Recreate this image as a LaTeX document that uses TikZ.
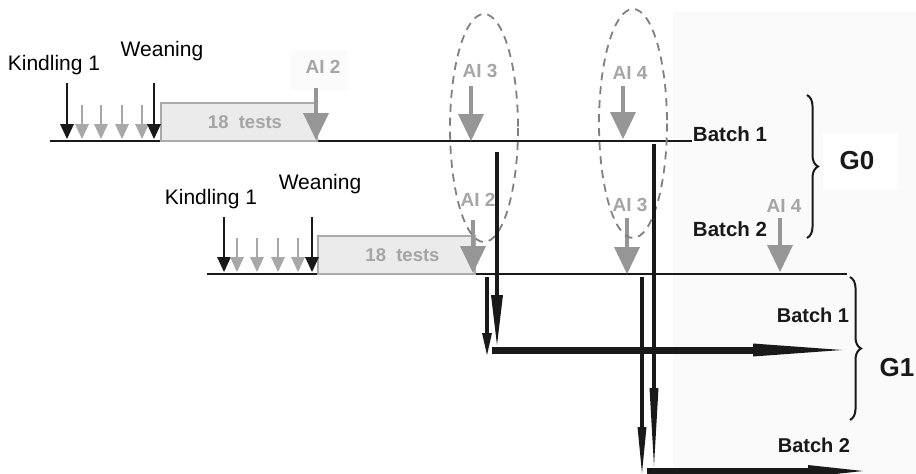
\documentclass[tikz,border=0pt]{standalone}
\usepackage{fontspec}
\setmainfont{Liberation Sans}
\usetikzlibrary{arrows.meta,decorations.pathreplacing}
\definecolor{agray}{RGB}{150,150,150}
\definecolor{sgray}{RGB}{168,168,168}
\definecolor{tgray}{RGB}{165,165,165}
\definecolor{boxfill}{RGB}{235,235,235}
\definecolor{boxdraw}{RGB}{170,170,170}
\definecolor{ellgray}{RGB}{128,128,128}
\definecolor{bggray}{RGB}{250,250,250}
\definecolor{lblbg}{RGB}{251,251,251}
\begin{document}
\begin{tikzpicture}[x=1pt,y=-1pt,
  lbl/.style={font=\fontsize{21}{24}\selectfont, inner sep=0pt},
  batchlbl/.style={font=\fontsize{20.5}{24}\selectfont\bfseries, text=black!90, inner sep=0pt},
  ailbl/.style={font=\fontsize{19}{22}\selectfont\bfseries, text=tgray, inner sep=0pt},
  glbl/.style={font=\fontsize{26}{30}\selectfont\bfseries, text=black!90, inner sep=0pt},
  timeline/.style={line width=2pt, black!90},
  kindarrow/.style={line width=2.5pt, black!90, -{Triangle[length=15pt,width=14pt,line width=0pt]}},
  smallarrow/.style={color=sgray, line width=2pt, -{Triangle[length=15pt,width=14pt,line width=0pt]}},
  aiarrow/.style={color=agray, line width=4.5pt, -{Triangle[length=27pt,width=26pt,line width=0pt]}},
  bigarrow/.style={black!90, line width=#1},
  testbox/.style={draw=boxdraw, fill=boxfill, line width=2pt, inner sep=0pt,
    font=\fontsize{18.5}{22}\selectfont\bfseries, text=tgray},
  ell/.style={draw=ellgray, dash pattern=on 8pt off 6pt, line width=1.8pt},
  gbrace/.style={decorate, decoration={brace, amplitude=11pt}, line width=2pt, black!90},
]
\useasboundingbox (0,0) rectangle (916,474);
% background tint
\fill[bggray] (673,12) rectangle (916,474);
\fill[white] (823,133) rectangle (898,190);
\fill[lblbg] (291,50) rectangle (348,90);

% ---------- G0 batch 1 ----------
\coordinate (t1a) at (50,141);
\coordinate (t1b) at (692,141);
\draw[timeline] (t1a) -- (t1b);
\node[lbl] (k1) at (54,65) {Kindling 1};
\node[lbl] (w1) at (162,51) {Weaning};
\node[testbox, minimum width=156pt, minimum height=38pt] (box1) at (239,122) {\hspace*{12pt}18\ \ tests};
\coordinate (ka1) at (67,83);  \coordinate (kb1) at (67,139);
\draw[kindarrow] (ka1) -- (kb1);
\foreach \x [count=\i] in {82,101,122,142}{
  \coordinate (sa1\i) at (\x,105); \coordinate (sb1\i) at (\x,139);
  \draw[smallarrow] (sa1\i) -- (sb1\i);
}
\coordinate (wa1) at (154,83); \coordinate (wb1) at (154,139);
\draw[kindarrow] (wa1) -- (wb1);
\node[ailbl] (ai2a) at (323,67) {AI 2};
\coordinate (ai2aS) at (316,88); \coordinate (ai2aE) at (316,140);
\draw[aiarrow] (ai2aS) -- (ai2aE);
\node[ailbl] (ai3a) at (480,71) {AI 3};
\coordinate (ai3aS) at (471,86); \coordinate (ai3aE) at (471,141);
\draw[aiarrow] (ai3aS) -- (ai3aE);
\node[ailbl] (ai4a) at (630,73) {AI 4};
\coordinate (ai4aS) at (623,86); \coordinate (ai4aE) at (623,139);
\draw[aiarrow] (ai4aS) -- (ai4aE);
\node[batchlbl] (b1g0) at (730,134) {Batch 1};

% ---------- G0 batch 2 ----------
\coordinate (t2a) at (207,274);
\coordinate (t2b) at (847,274);
\draw[timeline] (t2a) -- (t2b);
\node[lbl] (k2) at (211,199) {Kindling 1};
\node[lbl] (w2) at (320,184) {Weaning};
\node[testbox, minimum width=157pt, minimum height=38pt] (box2) at (396.5,255) {\hspace*{12pt}18\ \ tests};
\coordinate (ka2) at (224,217);  \coordinate (kb2) at (224,272);
\draw[kindarrow] (ka2) -- (kb2);
\foreach \x [count=\i] in {237,257,278,298}{
  \coordinate (sa2\i) at (\x,238); \coordinate (sb2\i) at (\x,272);
  \draw[smallarrow] (sa2\i) -- (sb2\i);
}
\coordinate (wa2) at (312,217); \coordinate (wb2) at (312,272);
\draw[kindarrow] (wa2) -- (wb2);
\node[ailbl] (ai2b) at (478,200) {AI 2};
\coordinate (ai2bS) at (473,220); \coordinate (ai2bE) at (473,273);
\draw[aiarrow] (ai2bS) -- (ai2bE);
\node[ailbl] (ai3b) at (630,205) {AI 3};
\coordinate (ai3bS) at (627,218); \coordinate (ai3bE) at (627,274);
\draw[aiarrow] (ai3bS) -- (ai3bE);
\node[ailbl] (ai4b) at (784,206) {AI 4};
\coordinate (ai4bS) at (780,218); \coordinate (ai4bE) at (780,272);
\draw[aiarrow] (ai4bS) -- (ai4bE);
\node[batchlbl] (b2g0) at (730,229) {Batch 2};

% dashed ellipses
\draw[ell] (484,128) ellipse [x radius=34, y radius=114];
\draw[ell] (633,123.5) ellipse [x radius=34, y radius=114.5];

% G0 brace
\coordinate (g0top) at (807,95); \coordinate (g0bot) at (807,238);
\draw[gbrace] (g0top) -- (g0bot);
\node[glbl] (g0) at (857,161) {G0};

% ---------- G1 ----------
\coordinate (v1s) at (497,152); \coordinate (v1e) at (497,345);
\coordinate (v2s) at (487,277); \coordinate (v2e) at (487,355);
\coordinate (h1s) at (492,350); \coordinate (h1e) at (842,350);
\coordinate (v3s) at (654,144); \coordinate (v3e) at (654,466);
\coordinate (v4s) at (642,277); \coordinate (v4e) at (642,473);
\coordinate (h2s) at (647,471); \coordinate (h2e) at (863,471);
\draw[bigarrow=7pt, -{Triangle[length=89pt,width=13pt,line width=0pt]}] (h1s) -- (h1e);
\draw[bigarrow=6pt, -{Triangle[length=55pt,width=12pt,line width=0pt]}] (h2s) -- (h2e);
\draw[bigarrow=4.5pt, -{Triangle[length=50pt,width=12pt,line width=0pt]}] (v1s) -- (v1e);
\draw[bigarrow=4pt, -{Triangle[length=22pt,width=10pt,line width=0pt]}] (v2s) -- (v2e);
\draw[bigarrow=4.5pt, -{Triangle[length=78pt,width=9pt,line width=0pt]}] (v3s) -- (v3e);
\draw[bigarrow=4pt, -{Triangle[length=46pt,width=9pt,line width=0pt]}] (v4s) -- (v4e);

\coordinate (g1top) at (850,277); \coordinate (g1bot) at (850,420);
\draw[gbrace] (g1top) -- (g1bot);
\node[glbl] (g1) at (897,368) {G1};
\node[batchlbl, font=\fontsize{20}{24}\selectfont\bfseries] (b1g1) at (813,315) {Batch 1};
\node[batchlbl, font=\fontsize{20}{24}\selectfont\bfseries] (b2g1) at (814,445) {Batch 2};
\end{tikzpicture}
\end{document}
